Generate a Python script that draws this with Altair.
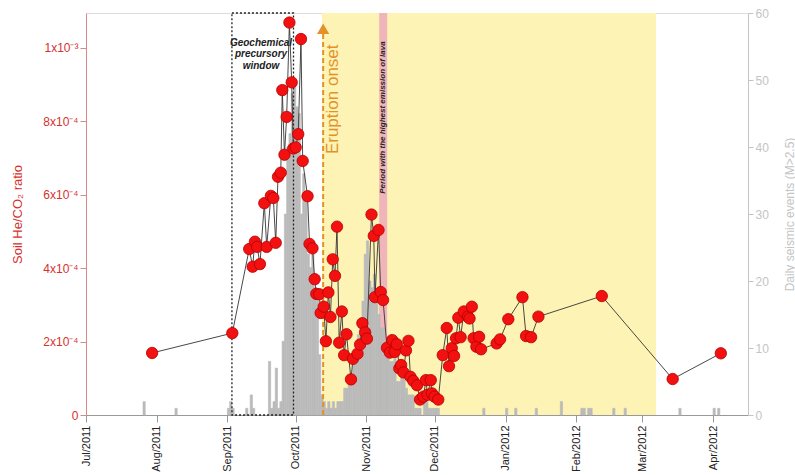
import altair as alt
import pandas as pd

# ---------------- data ----------------
he_dates = [
    "2011-07-30T00:00", "2011-09-03T04:00", "2011-09-10T14:00", "2011-09-12T02:00",
    "2011-09-13T02:00", "2011-09-14T02:00", "2011-09-15T07:00", "2011-09-17T05:00",
    "2011-09-18T06:00", "2011-09-20T02:00", "2011-09-21T04:00", "2011-09-22T05:00",
    "2011-09-23T05:00", "2011-09-24T10:00", "2011-09-25T02:00", "2011-09-26T01:00",
    "2011-09-27T00:00", "2011-09-28T05:00", "2011-09-29T05:00", "2011-09-29T22:00",
    "2011-09-30T23:00", "2011-10-02T02:00", "2011-10-03T07:00", "2011-10-04T01:00",
    "2011-10-06T04:00", "2011-10-07T01:00", "2011-10-08T08:00", "2011-10-09T07:00",
    "2011-10-10T00:00", "2011-10-11T07:00", "2011-10-11T22:00", "2011-10-13T06:00",
    "2011-10-14T05:00", "2011-10-15T07:00", "2011-10-16T05:00", "2011-10-17T05:00",
    "2011-10-18T05:00", "2011-10-19T02:00", "2011-10-20T01:00", "2011-10-21T05:00",
    "2011-10-22T05:00", "2011-10-23T06:00", "2011-10-25T05:00", "2011-10-26T02:00",
    "2011-10-28T02:00", "2011-10-29T05:00", "2011-10-30T05:00", "2011-10-31T10:00",
    "2011-11-01T05:00", "2011-11-03T05:00", "2011-11-04T05:00", "2011-11-04T18:00",
    "2011-11-06T07:00", "2011-11-07T06:00", "2011-11-08T07:00", "2011-11-10T00:00",
    "2011-11-11T07:00", "2011-11-12T07:00", "2011-11-13T10:00", "2011-11-14T07:00",
    "2011-11-15T10:00", "2011-11-16T05:00", "2011-11-17T06:00", "2011-11-18T08:00",
    "2011-11-19T10:00", "2011-11-20T07:00", "2011-11-21T13:00", "2011-11-23T05:00",
    "2011-11-24T12:00", "2011-11-26T00:00", "2011-11-27T02:00", "2011-11-27T19:00",
    "2011-11-29T05:00", "2011-11-29T17:00", "2011-11-30T20:00", "2011-12-02T12:00",
    "2011-12-04T11:00", "2011-12-06T05:00", "2011-12-07T05:00", "2011-12-08T10:00",
    "2011-12-09T10:00", "2011-12-10T07:00", "2011-12-11T07:00", "2011-12-12T07:00",
    "2011-12-13T17:00", "2011-12-15T12:00", "2011-12-16T05:00", "2011-12-17T05:00",
    "2011-12-18T00:00", "2011-12-19T05:00", "2011-12-20T10:00", "2011-12-21T06:00",
    "2011-12-28T02:00", "2011-12-29T14:00", "2012-01-02T05:00", "2012-01-08T10:00",
    "2012-01-10T00:00", "2012-01-12T05:00", "2012-01-15T10:00", "2012-02-12T05:00",
    "2012-03-14T07:00", "2012-04-04T10:00",
]
he_values = [
    1.69e-4, 2.23e-4, 4.52e-4, 4.04e-4,
    4.72e-4, 4.58e-4, 4.11e-4, 5.77e-4,
    4.58e-4, 5.97e-4, 5.91e-4, 4.69e-4,
    6.49e-4, 6.60e-4, 8.85e-4, 7.09e-4,
    8.12e-4, 1.069e-3, 9.06e-4, 7.26e-4,
    7.29e-4, 7.65e-4, 1.024e-3, 6.92e-4,
    5.96e-4, 4.66e-4, 4.54e-4, 3.70e-4,
    3.30e-4, 3.29e-4, 2.78e-4, 2.95e-4,
    2.01e-4, 3.34e-4, 2.67e-4, 4.24e-4,
    3.79e-4, 5.13e-4, 1.97e-4, 2.82e-4,
    1.63e-4, 2.20e-4, 0.97e-4, 1.53e-4,
    1.67e-4, 1.92e-4, 2.50e-4, 2.25e-4,
    2.08e-4, 5.46e-4, 4.88e-4, 3.21e-4,
    5.04e-4, 3.35e-4, 3.13e-4, 1.83e-4,
    1.70e-4, 2.04e-4, 1.72e-4, 1.93e-4,
    1.27e-4, 1.36e-4, 1.16e-4, 1.76e-4,
    2.02e-4, 1.04e-4, 0.93e-4, 0.81e-4,
    0.42e-4, 0.50e-4, 0.95e-4, 0.55e-4,
    0.95e-4, 0.59e-4, 0.50e-4, 0.42e-4,
    1.63e-4, 2.37e-4, 1.33e-4, 1.82e-4,
    1.61e-4, 2.09e-4, 2.65e-4, 2.12e-4,
    2.82e-4, 2.68e-4, 2.63e-4, 2.95e-4,
    2.09e-4, 1.86e-4, 2.13e-4, 1.79e-4,
    1.95e-4, 2.06e-4, 2.61e-4, 3.21e-4,
    2.15e-4, 2.12e-4, 2.68e-4, 3.24e-4,
    0.98e-4, 1.68e-4,
]

seis_dates = [
    "2011-07-26", "2011-08-09", "2011-09-01", "2011-09-02", "2011-09-03",
    "2011-09-09", "2011-09-11", "2011-09-12", "2011-09-19", "2011-09-20",
    "2011-09-21", "2011-09-22", "2011-09-23", "2011-09-24", "2011-09-25",
    "2011-09-26", "2011-09-27", "2011-09-28", "2011-09-29", "2011-09-30",
    "2011-10-01", "2011-10-02", "2011-10-03", "2011-10-04", "2011-10-05",
    "2011-10-06", "2011-10-07", "2011-10-08", "2011-10-09", "2011-10-10",
    "2011-10-11", "2011-10-12", "2011-10-13", "2011-10-14", "2011-10-15",
    "2011-10-16", "2011-10-17", "2011-10-18", "2011-10-19", "2011-10-20",
    "2011-10-21", "2011-10-22", "2011-10-23", "2011-10-24", "2011-10-25",
    "2011-10-26", "2011-10-27", "2011-10-28", "2011-10-29", "2011-10-30",
    "2011-10-31", "2011-11-01", "2011-11-02", "2011-11-03", "2011-11-04",
    "2011-11-05", "2011-11-06", "2011-11-07", "2011-11-08", "2011-11-09",
    "2011-11-10", "2011-11-11", "2011-11-12", "2011-11-13", "2011-11-14",
    "2011-11-15", "2011-11-16", "2011-11-17", "2011-11-18", "2011-11-19",
    "2011-11-20", "2011-11-21", "2011-11-22", "2011-11-23", "2011-11-24",
    "2011-11-26", "2011-11-27", "2011-11-28", "2011-11-29", "2011-11-30",
    "2011-12-01", "2011-12-02", "2011-12-22", "2012-01-01", "2012-01-05",
    "2012-01-14", "2012-01-25", "2012-02-03", "2012-02-04", "2012-02-06",
    "2012-02-07", "2012-02-17", "2012-02-22", "2012-03-17", "2012-04-01",
    "2012-04-03",
]
seis_counts = [
    2, 1, 1, 2, 1,
    1, 3, 1, 8, 1,
    2, 7, 1, 2, 11,
    30, 40, 42, 48, 50,
    46, 45, 30, 36, 32,
    24, 22, 25, 19, 18,
    9, 3, 2, 1, 2,
    1, 2, 1, 2, 2,
    2, 4, 4, 6, 6,
    8, 9, 12, 14, 17,
    24, 26, 20, 19, 21,
    17, 15, 13, 13, 11,
    10, 8, 8, 9, 5,
    5, 6, 6, 4, 3,
    3, 3, 1, 1, 1,
    2, 2, 1, 1, 1,
    1, 1, 1, 1, 1,
    1, 2, 1, 1, 1,
    1, 1, 1, 1, 1,
    1,
]

tick_months = [(2011, 7), (2011, 8), (2011, 9), (2011, 10), (2011, 11), (2011, 12),
               (2012, 1), (2012, 2), (2012, 3), (2012, 4)]
he_ticks = [0, 2e-4, 4e-4, 6e-4, 8e-4, 1e-3]
seis_ticks = [0, 10, 20, 30, 40, 50, 60]

# periods
eruption_period = ["2011-10-12T12:00", "2012-03-07T00:00"]
lava_period = ["2011-11-06T14:00", "2011-11-10T02:00"]
window_period = ["2011-09-03T00:00", "2011-09-30T00:00"]
onset_date = "2011-10-13T00:00"

HE_MAX = 1.095e-3
SEIS_MAX = 60
W, H = 662, 402

RED = "#d7312e"
GREY_AX = "#c4c4c4"
ORANGE = "#e3922a"
BAR = "#bababa"
FONT = "Liberation Sans"

# ---------------- frames ----------------
he_df = pd.DataFrame({"date": he_dates, "ratio": he_values})
s = pd.to_datetime(pd.Series(seis_dates))
seis_df = pd.DataFrame({
    "start": s.dt.strftime("%Y-%m-%dT%H:%M"),
    "end": (s + pd.Timedelta(days=1)).dt.strftime("%Y-%m-%dT%H:%M"),
    "count": seis_counts,
})

x_scale = alt.Scale(domain=[alt.DateTime(year=2011, month=7, date=1),
                            alt.DateTime(year=2012, month=4, date=16, hours=8)])
x_axis = alt.Axis(
    values=[alt.DateTime(year=y, month=m, date=1) for y, m in tick_months],
    format="%b/%Y", labelAngle=270, labelFontSize=11, labelColor="#222",
    tickSize=7, tickColor="#999", domainColor="#999", labelPadding=3,
    grid=False, title=None,
)


def X(field):
    return alt.X(f"{field}:T", scale=x_scale, axis=x_axis, title=None)


def he_scale():
    return alt.Scale(domain=[0, HE_MAX], nice=False, zero=True)


# background periods
yellow = alt.Chart(pd.DataFrame({"start": [eruption_period[0]], "end": [eruption_period[1]]})).mark_rect(
    color="#fdf3b4").encode(x=X("start"), x2="end:T", y=alt.value(0), y2=alt.value(H))
pink = alt.Chart(pd.DataFrame({"start": [lava_period[0]], "end": [lava_period[1]]})).mark_rect(
    color="#f0b4bb").encode(x=X("start"), x2="end:T", y=alt.value(0), y2=alt.value(H))

bars = alt.Chart(seis_df).mark_rect(color=BAR, stroke=BAR, strokeWidth=0.6).encode(
    x=X("start"), x2="end:T",
    y=alt.Y("count:Q", scale=alt.Scale(domain=[0, SEIS_MAX], nice=False),
            axis=alt.Axis(orient="right", values=seis_ticks, labelColor=GREY_AX,
                          tickColor=GREY_AX, domainColor=GREY_AX, labelFontSize=12,
                          tickSize=5, grid=False, title="Daily seismic events (M>2.5)",
                          titleColor=GREY_AX, titleFontSize=12, titleFontWeight="normal",
                          titleAngle=270, titleBaseline="top", titleX=36, titleY=H / 2,
                          titleAlign="center")),
    y2=alt.datum(0),
)

# annotations and He/CO2 series (left scale)
window = alt.Chart(pd.DataFrame({"start": [window_period[0]], "end": [window_period[1]],
                                 "lo": [0.0], "hi": [HE_MAX]})).mark_rect(
    fillOpacity=0, stroke="#222", strokeDash=[2, 2], strokeWidth=1.3).encode(
    x=X("start"), x2="end:T",
    y=alt.Y("lo:Q", scale=he_scale(), axis=None), y2="hi:Q")

onset_rule = alt.Chart(pd.DataFrame({"d": [onset_date], "lo": [0.0], "hi": [1.04e-3]})).mark_rule(
    color=ORANGE, strokeDash=[5, 3], strokeWidth=2).encode(
    x=X("d"), y=alt.Y("lo:Q", scale=he_scale(), axis=None), y2="hi:Q")

onset_head = alt.Chart(pd.DataFrame({"d": [onset_date], "v": [1.052e-3]})).mark_point(
    shape="triangle-up", filled=True, color=ORANGE, opacity=1, size=150).encode(
    x=X("d"), y=alt.Y("v:Q", scale=he_scale(), axis=None))

line = alt.Chart(he_df).mark_line(color="#333", strokeWidth=0.9).encode(
    x=X("date"),
    y=alt.Y("ratio:Q", scale=he_scale(),
            axis=alt.Axis(orient="left", values=he_ticks,
                          labelExpr="datum.value == 0 ? '0' : (datum.value > 0.0009 ? '1x10⁻³' : format(datum.value*10000, '.0f') + 'x10⁻⁴')",
                          labelColor=RED, tickColor="#d88a8a", domainColor="#d88a8a",
                          labelFontSize=12, tickSize=6, grid=False,
                          title="Soil He/CO₂ ratio", titleColor=RED, titleFontSize=13,
                          titleFontWeight="normal", titleX=-62, titleY=H / 2,
                          titleAngle=270, titleAlign="center", titleBaseline="bottom")),
)

points = alt.Chart(he_df).mark_point(
    filled=True, fill="#f21010", stroke="#b80000", strokeWidth=0.8, size=130, opacity=1).encode(
    x=X("date"), y=alt.Y("ratio:Q", scale=he_scale(), axis=None))

geo_text = alt.Chart(pd.DataFrame({
    "d": ["2011-09-15T18:00"] * 3,
    "v": [1.013e-3, 0.982e-3, 0.951e-3],
    "t": ["Geochemical", "precursory", "window"],
})).mark_text(fontSize=10, fontWeight="bold", fontStyle="italic", color="#222",
              align="center", baseline="middle", font=FONT).encode(
    x=X("d"), y=alt.Y("v:Q", scale=he_scale(), axis=None), text="t:N")

eruption_text = alt.Chart(pd.DataFrame({"d": ["2011-10-17T07:00"], "v": [8.6e-4],
                                        "t": ["Eruption onset"]})).mark_text(
    fontSize=17, color=ORANGE, angle=270, align="center", baseline="middle", font=FONT).encode(
    x=X("d"), y=alt.Y("v:Q", scale=he_scale(), axis=None), text="t:N")

period_text = alt.Chart(pd.DataFrame({"d": ["2011-11-08T07:00"], "v": [8.1e-4],
                                      "t": ["Period with the highest emission of lava"]})).mark_text(
    fontSize=8, fontWeight="bold", fontStyle="italic", color="#222", angle=270,
    align="center", baseline="middle", font=FONT).encode(
    x=X("d"), y=alt.Y("v:Q", scale=he_scale(), axis=None), text="t:N")

chart = alt.layer(
    yellow, pink, bars, window, onset_rule, onset_head, line, points,
    geo_text, eruption_text, period_text,
).resolve_scale(y="independent").properties(
    width=W, height=H,
    autosize=alt.AutoSizeParams(type="none"),
    padding={"left": 86, "top": 13, "right": 795 - 86 - W, "bottom": 475 - 13 - H},
    background="white",
).configure_view(stroke="#999", strokeWidth=1).configure(font=FONT)

chart.save("out.html", embed_options={"renderer": "svg", "actions": False})
